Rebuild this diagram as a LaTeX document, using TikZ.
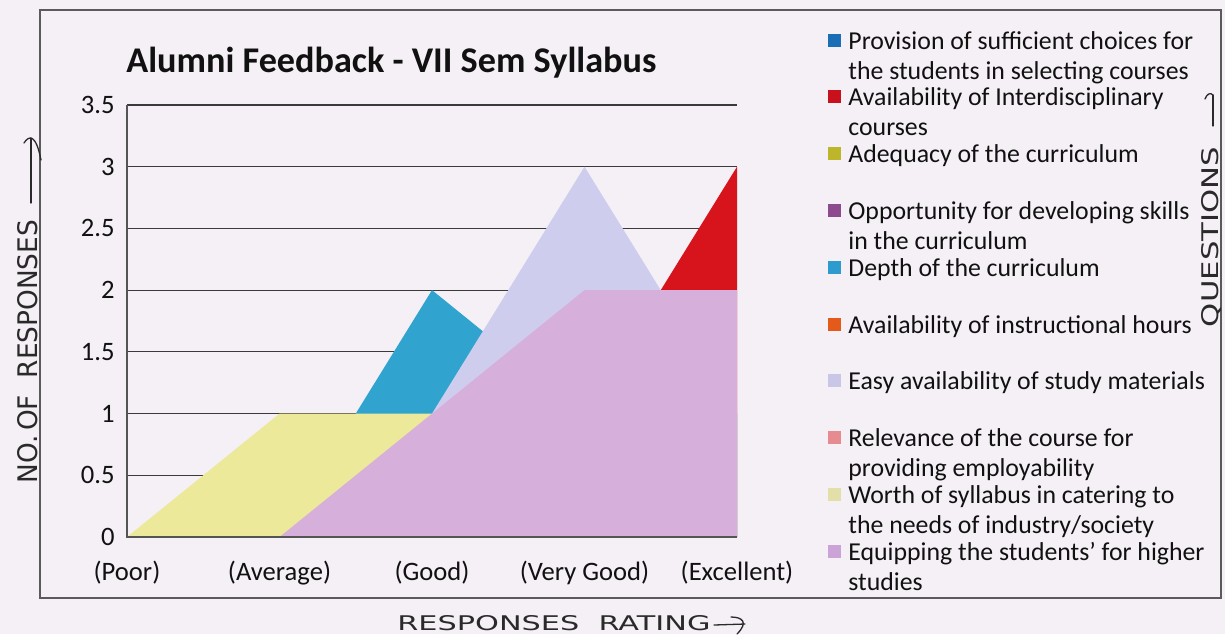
\documentclass[tikz,border=0pt]{standalone}
\usepackage{fontspec}
\usepackage{graphicx}
\setmainfont{Carlito}
\newfontfamily\handfont{DejaVu Sans}
\definecolor{paper}{HTML}{F4F0F5}
\definecolor{gridc}{HTML}{3A3A3A}
\definecolor{axisc}{HTML}{555555}
\definecolor{framec}{HTML}{5A5A5A}
\definecolor{txt}{HTML}{111111}
\definecolor{ink}{HTML}{2A2A2A}
\definecolor{redA}{HTML}{D7131B}
\definecolor{cyanA}{HTML}{30A3CF}
\definecolor{lavA}{HTML}{CFCDEE}
\definecolor{yelA}{HTML}{ECE99B}
\definecolor{pinkA}{HTML}{D6B0DA}
\definecolor{m1}{HTML}{1B6DB5}
\definecolor{m2}{HTML}{C8111C}
\definecolor{m3}{HTML}{BDB62A}
\definecolor{m4}{HTML}{8E4A8E}
\definecolor{m5}{HTML}{2E9BCF}
\definecolor{m6}{HTML}{E35A1A}
\definecolor{m7}{HTML}{C9C6E8}
\definecolor{m8}{HTML}{E68C90}
\definecolor{m9}{HTML}{E2DFA8}
\definecolor{m10}{HTML}{CBA3D6}
\begin{document}
\begin{tikzpicture}[x=0.5pt,y=-0.5pt,
  gridline/.style={draw=gridc,line width=0.6pt},
  axisline/.style={draw=axisc,line width=0.7pt},
  ticklab/.style={font=\fontsize{13.3}{15}\selectfont,text=txt,inner sep=0pt},
  legtext/.style={font=\fontsize{12.9}{15}\selectfont,text=txt,inner sep=0pt,anchor=base west},
  legmark/.style={minimum size=6.5pt,inner sep=0pt,draw=none},
  hand/.style={draw=ink,line width=0.65pt,line cap=round,line join=round},
  handtext/.style={inner sep=0pt,text=ink}]
\fill[paper] (0,0) rectangle (1225,634);
\useasboundingbox (0,0) rectangle (1225,634);
% chart frame
\draw[draw=framec,line width=0.55pt] (40,10) rectangle (1221,598);
% gridlines
\foreach \v in {0.5,1,1.5,2,2.5,3,3.5}
  \draw[gridline] (127,{537-123.43*\v}) -- (737,{537-123.43*\v});
% series (back to front)
\fill[redA] (127,537) -- (279.5,537) -- (432,537) -- (584.5,413.6) -- (737,166.7) -- (737,537) -- cycle;
\fill[cyanA] (127,537) -- (279.5,537) -- (432,290.1) -- (584.5,413.6) -- (737,413.6) -- (737,537) -- cycle;
\fill[lavA] (127,537) -- (279.5,537) -- (432,413.6) -- (584.5,166.7) -- (737,413.6) -- (737,537) -- cycle;
\fill[yelA] (127,537) -- (279.5,413.6) -- (432,413.6) -- (584.5,413.6) -- (737,413.6) -- (737,537) -- cycle;
\fill[pinkA] (127,537) -- (279.5,537) -- (432,413.6) -- (584.5,290.1) -- (737,290.1) -- (737,537) -- cycle;
% axes
\draw[axisline] (127,105) -- (127,537) -- (737,537);
% y tick labels
\foreach \v/\t [count=\i] in {0/0,0.5/0.5,1/1,1.5/1.5,2/2,2.5/2.5,3/3,3.5/3.5}
  \node[ticklab,anchor=east] (ylab\i) at (115,{537-123.43*\v}) {\t};
% x tick labels
\foreach \x/\t [count=\i] in {127/(Poor),279.5/(Average),432/(Good),584.5/(Very Good),737/(Excellent)}
  \node[ticklab] (xlab\i) at (\x,573) {\t};
% title
\node[anchor=base west,inner sep=0pt,text=txt,font=\bfseries\fontsize{18.1}{20}\selectfont] (title) at (126,72) {Alumni Feedback - VII Sem Syllabus};
% legend
\node[legmark,fill=m1] (mk1) at (834,40) {};
\node[legtext] (lg1a) at (848,49) {Provision of sufficient choices for};
\node[legtext] (lg1b) at (848,79) {the students in selecting courses};
\node[legmark,fill=m2] (mk2) at (834,96.8) {};
\node[legtext] (lg2a) at (848,105.8) {Availability of Interdisciplinary};
\node[legtext] (lg2b) at (848,135.8) {courses};
\node[legmark,fill=m3] (mk3) at (834,153.6) {};
\node[legtext] (lg3a) at (848,162.6) {Adequacy of the curriculum};
\node[legmark,fill=m4] (mk4) at (834,210.4) {};
\node[legtext] (lg4a) at (848,219.4) {Opportunity for developing skills};
\node[legtext] (lg4b) at (848,249.4) {in the curriculum};
\node[legmark,fill=m5] (mk5) at (834,267.2) {};
\node[legtext] (lg5a) at (848,276.2) {Depth of the curriculum};
\node[legmark,fill=m6] (mk6) at (834,324) {};
\node[legtext] (lg6a) at (848,333) {Availability of instructional hours};
\node[legmark,fill=m7] (mk7) at (834,380.8) {};
\node[legtext] (lg7a) at (848,389.8) {Easy availability of study materials};
\node[legmark,fill=m8] (mk8) at (834,437.6) {};
\node[legtext] (lg8a) at (848,446.6) {Relevance of the course for};
\node[legtext] (lg8b) at (848,476.6) {providing employability};
\node[legmark,fill=m9] (mk9) at (834,494.4) {};
\node[legtext] (lg9a) at (848,503.4) {Worth of syllabus in catering to};
\node[legtext] (lg9b) at (848,533.4) {the needs of industry/society};
\node[legmark,fill=m10] (mk10) at (834,551.2) {};
\node[legtext] (lg10a) at (848,560.2) {Equipping the students’ for higher};
\node[legtext] (lg10b) at (848,590.2) {studies};
% handwritten axis notes
\node[handtext,rotate=90] (ylabel) at (28,351.5) {\resizebox{131.5pt}{10pt}{\handfont NO.\,OF\ \ RESPONSES}};
\coordinate (ya0) at (31,203);
\coordinate (ya1) at (31,138);
\draw[hand] (ya0) -- (ya1);
\draw[hand] (24,143) .. controls (29,135) and (36,134) .. (41,160);
\node[handtext,rotate=90] (qlabel) at (1211,237) {\resizebox{90pt}{8.5pt}{\handfont QUESTIONS}};
\coordinate (qa0) at (1213,126);
\coordinate (qa1) at (1213,95);
\draw[hand] (qa0) -- (qa1);
\draw[hand] (qa1) .. controls (1210,92) and (1207,94) .. (1205,99);
\node[handtext,anchor=base west] (xlabel) at (397,630) {\resizebox{156.5pt}{7.5pt}{\handfont RESPONSES\ \ RATING}};
\coordinate (xa0) at (714,625);
\coordinate (xa1) at (745,624);
\draw[hand] (xa0) -- (xa1);
\draw[hand] (731,617) .. controls (742,617) and (749,622) .. (737,634);
\end{tikzpicture}
\end{document}
